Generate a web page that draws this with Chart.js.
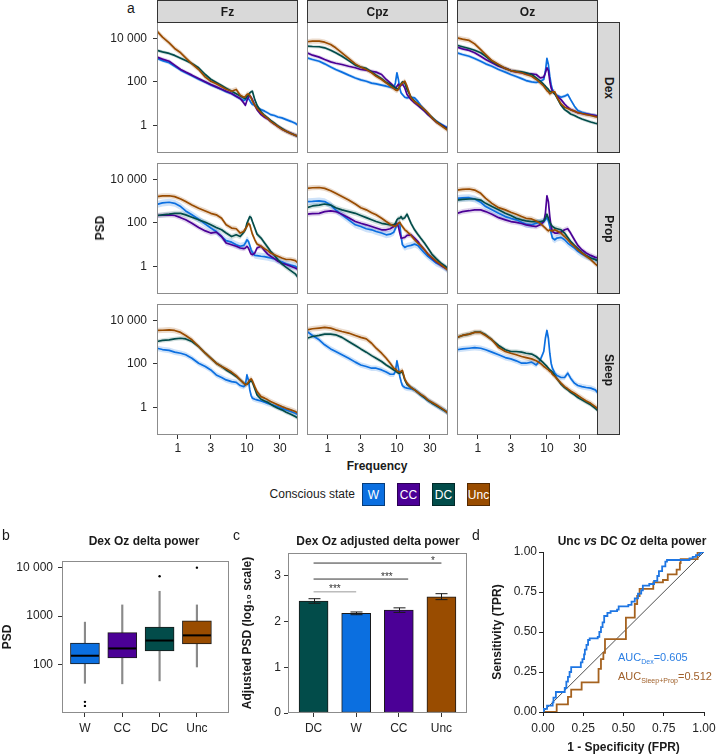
<!DOCTYPE html>
<html><head><meta charset="utf-8"><title>PSD figure</title>
<script src="https://cdn.jsdelivr.net/npm/chart.js@4/dist/chart.umd.min.js"></script>
<style>
html,body{margin:0;padding:0;background:#fff}
#fig{position:relative;width:716px;height:756px;overflow:hidden;font-family:'Liberation Sans',Arial,Helvetica,sans-serif;color:#1a1a1a}
#fig canvas{position:absolute}
.t{position:absolute;white-space:nowrap}
.strip{position:absolute;box-sizing:border-box;background:#d9d9d9;border:1px solid #333;font-weight:bold;font-size:12px;display:flex;align-items:center;justify-content:center;color:#1a1a1a}
.strip.v span{display:inline-block;transform:rotate(90deg)}
.key{position:absolute;top:483px;width:23px;height:23px;box-sizing:border-box;border:1px solid rgba(0,0,0,0.45);color:#fff;font-size:12px;display:flex;align-items:center;justify-content:center}
.ttl{position:absolute;font-weight:bold;font-size:12px;transform:translate(-50%,-50%);white-space:nowrap}
.letter{position:absolute;font-size:14px}
.auc{position:absolute;white-space:nowrap;font-size:11px}
.auc sub{font-size:7px}
</style></head><body><div id="fig">
<div class="letter" style="left:127px;top:0px">a</div>
<div class="strip" style="left:157px;top:0;width:141px;height:23px">Fz</div>
<div class="strip" style="left:307px;top:0;width:141px;height:23px">Cpz</div>
<div class="strip" style="left:457px;top:0;width:141px;height:23px">Oz</div>
<div class="strip v" style="left:597px;top:22px;width:23px;height:131px"><span>Dex</span></div>
<div class="strip v" style="left:597px;top:163px;width:23px;height:131px"><span>Prop</span></div>
<div class="strip v" style="left:597px;top:304px;width:23px;height:131px"><span>Sleep</span></div>
<div class="t" style="left:100px;top:228px;transform:translate(-50%,-50%) rotate(-90deg);font-weight:bold;font-size:12px">PSD</div>
<div class="t" style="left:377px;top:466px;transform:translate(-50%,-50%);font-weight:bold;font-size:12px">Frequency</div>
<div class="t" style="left:355px;top:494px;transform:translate(-100%,-50%);font-size:12px">Conscious state</div>
<div class="key" style="left:362px;background:#0b6fe0">W</div>
<div class="key" style="left:397px;background:#4b0096">CC</div>
<div class="key" style="left:432px;background:#024c4a">DC</div>
<div class="key" style="left:467px;background:#994c00">Unc</div>
<div class="letter" style="left:2px;top:527px">b</div>
<div class="letter" style="left:233px;top:527px">c</div>
<div class="letter" style="left:472px;top:527px">d</div>
<div class="ttl" style="left:144px;top:541px">Dex Oz delta power</div>
<div class="ttl" style="left:378px;top:541px">Dex Oz adjusted delta power</div>
<div class="ttl" style="left:632px;top:541px">Unc <i>vs</i> DC Oz delta power</div>
<div class="auc" style="left:618px;top:651px;color:#2a7ee3">AUC<sub>Dex</sub>=0.605</div>
<div class="auc" style="left:618px;top:670px;color:#a0602a">AUC<sub>Sleep+Prop</sub>=0.512</div>
</div>
<script>
// ---------- data ----------
const freqs = [0.5,0.6,0.75,0.9,1.1,1.3,1.6,2,2.5,3,3.6,4.3,5,6,7,8,9,9.5,10,10.5,11,11.5,12,13,14,16,18,20,22,25,28,32,37,43,50,55];
const freqTickVals = [1,3,10,30];
const freqTickLabels = ['1','3','10','30'];
const psdTickVals = [1,100,10000];
const psdTickLabels = ['1','100','10 000'];
// PSD values as log10(PSD)
const fzDexW   = [3.08,2.98,2.88,2.72,2.54,2.42,2.28,2.12,1.98,1.86,1.75,1.65,1.55,1.45,1.32,1.22,1.14,1.18,1.26,1.23,1.14,1.03,0.96,0.92,0.82,0.72,0.65,0.57,0.49,0.45,0.38,0.34,0.26,0.18,0.09,0.00];
const fzDexCC  = [3.14,3.05,2.95,2.77,2.57,2.45,2.31,2.15,2.00,1.88,1.77,1.66,1.57,1.46,1.34,1.23,1.03,0.92,1.14,1.29,1.35,1.29,1.18,0.92,0.72,0.49,0.37,0.29,0.18,0.06,-0.05,-0.17,-0.28,-0.37,-0.46,-0.51];
const fzDexDC  = [3.45,3.38,3.31,3.22,3.09,2.98,2.85,2.65,2.34,2.12,1.97,1.83,1.71,1.57,1.45,1.35,1.26,1.22,1.32,1.38,1.49,1.54,1.57,1.18,0.92,0.62,0.45,0.34,0.22,0.09,-0.03,-0.15,-0.28,-0.37,-0.46,-0.52];
const fzDexUnc = [4.34,4.06,3.80,3.54,3.34,3.11,2.83,2.57,2.22,2.03,1.91,1.77,1.66,1.57,1.65,1.38,1.29,1.32,1.42,1.45,1.38,1.26,1.11,0.92,0.77,0.57,0.42,0.31,0.18,0.06,-0.06,-0.18,-0.28,-0.38,-0.46,-0.51];
const cpzDexW   = [3.11,3.03,2.95,2.83,2.69,2.57,2.45,2.31,2.18,2.09,2.03,1.94,1.91,1.85,1.80,1.75,1.72,1.95,2.42,2.11,1.69,1.49,1.42,1.29,1.26,1.29,1.26,1.11,0.92,0.72,0.52,0.34,0.18,0.06,-0.06,-0.12];
const cpzDexCC  = [3.34,3.23,3.14,3.03,2.92,2.86,2.80,2.72,2.65,2.57,2.54,2.49,2.45,2.34,2.11,1.95,1.80,1.69,1.80,1.89,1.80,1.85,1.91,1.72,1.42,1.18,1.03,0.92,0.80,0.65,0.49,0.34,0.15,0.03,-0.09,-0.15];
const cpzDexDC  = [3.65,3.63,3.62,3.57,3.46,3.34,3.18,2.98,2.77,2.68,2.62,2.46,2.31,2.15,1.98,1.88,1.77,1.74,1.68,1.68,1.80,1.91,2.00,1.95,1.65,1.29,1.11,0.98,0.86,0.71,0.55,0.37,0.18,0.03,-0.12,-0.20];
const cpzDexUnc = [3.85,3.88,3.88,3.83,3.72,3.57,3.34,3.08,2.83,2.68,2.57,2.42,2.26,2.11,1.95,1.80,1.69,1.63,1.60,1.65,1.80,1.88,1.94,2.03,1.80,1.26,1.08,0.98,0.88,0.72,0.57,0.34,0.15,0.00,-0.15,-0.25];
const ozDexW   = [3.34,3.26,3.18,3.08,2.95,2.83,2.72,2.57,2.45,2.34,2.25,2.15,2.06,2.00,1.97,2.03,2.11,2.49,3.08,2.80,2.26,1.88,1.65,1.45,1.38,1.29,1.34,1.42,1.18,0.88,0.68,0.60,0.54,0.49,0.45,0.40];
const ozDexCC  = [3.60,3.52,3.45,3.34,3.18,3.03,2.88,2.72,2.62,2.52,2.46,2.42,2.37,2.37,2.34,2.18,2.22,2.42,2.65,2.52,2.03,1.72,1.57,1.45,1.34,1.18,0.98,0.83,0.72,0.65,0.58,0.54,0.51,0.48,0.45,0.42];
const ozDexDC  = [3.69,3.62,3.54,3.46,3.34,3.18,2.95,2.77,2.62,2.52,2.49,2.46,2.42,2.34,2.18,2.03,1.88,1.80,1.72,1.65,1.57,1.54,1.54,1.45,1.26,0.92,0.72,0.62,0.52,0.45,0.37,0.29,0.22,0.15,0.09,0.06];
const ozDexUnc = [4.03,3.97,3.91,3.75,3.49,3.26,2.98,2.80,2.62,2.52,2.46,2.42,2.34,2.26,2.11,1.95,1.80,1.69,1.60,1.54,1.45,1.49,1.54,1.54,1.29,0.98,0.83,0.77,0.71,0.65,0.58,0.54,0.49,0.45,0.40,0.37];
const fzPropW   = [2.85,2.92,2.95,2.90,2.75,2.55,2.37,2.17,1.94,1.76,1.60,1.37,1.18,1.11,0.99,0.92,0.96,1.07,1.22,1.15,0.96,0.76,0.64,0.50,0.49,0.46,0.44,0.41,0.38,0.34,0.26,0.20,0.11,0.05,0.00,-0.08];
const fzPropCC  = [2.34,2.35,2.37,2.34,2.24,2.14,1.98,1.79,1.63,1.53,1.57,1.37,1.07,0.99,0.92,0.84,0.81,0.84,0.92,0.84,0.69,0.56,0.53,0.61,0.84,0.92,0.72,0.56,0.46,0.35,0.23,0.14,0.08,0.00,-0.08,-0.15];
const fzPropDC  = [2.34,2.37,2.40,2.44,2.44,2.37,2.26,2.14,2.03,1.91,1.79,1.68,1.53,1.37,1.45,1.37,1.57,1.68,1.98,2.14,2.29,2.24,2.06,1.76,1.48,1.30,1.07,0.87,0.69,0.50,0.31,0.11,-0.05,-0.20,-0.35,-0.53];
const fzPropUnc = [3.21,3.24,3.25,3.21,3.10,2.98,2.82,2.67,2.55,2.44,2.37,2.21,1.91,1.76,1.73,1.53,1.60,1.73,1.83,1.98,1.91,1.68,1.48,1.22,1.02,0.92,0.81,0.72,0.61,0.53,0.46,0.38,0.31,0.31,0.26,0.15];
const cpzPropW   = [2.98,2.99,3.01,2.98,2.82,2.60,2.37,2.14,1.91,1.83,1.73,1.68,1.60,1.53,1.45,1.48,1.57,1.73,1.91,1.98,1.94,1.37,0.99,0.87,0.92,0.96,1.02,0.96,0.81,0.61,0.46,0.31,0.15,0.05,-0.08,-0.20];
const cpzPropCC  = [2.40,2.43,2.44,2.52,2.55,2.52,2.40,2.24,2.06,1.98,1.91,1.83,1.76,1.68,1.68,1.73,1.83,1.91,1.98,1.83,1.53,1.30,1.30,1.33,1.42,1.45,1.30,1.15,0.96,0.76,0.56,0.38,0.20,0.05,-0.08,-0.15];
const cpzPropDC  = [2.70,2.78,2.82,2.87,2.82,2.70,2.60,2.52,2.44,2.34,2.24,2.14,2.06,1.98,1.94,1.91,1.91,1.98,2.14,2.21,2.21,2.29,2.18,2.24,2.40,1.98,1.68,1.48,1.30,1.07,0.84,0.56,0.35,0.15,0.00,-0.11];
const cpzPropUnc = [3.59,3.62,3.63,3.59,3.48,3.36,3.21,3.05,2.87,2.70,2.60,2.47,2.37,2.21,2.06,1.94,1.86,1.83,1.91,1.98,2.03,1.91,1.83,1.68,1.60,1.42,1.22,1.07,0.96,0.76,0.56,0.41,0.23,0.08,-0.08,-0.20];
const ozPropW   = [3.13,3.15,3.16,3.10,2.95,2.75,2.60,2.44,2.29,2.21,2.14,2.03,1.94,1.91,1.98,2.03,2.06,2.14,2.24,2.09,1.83,1.53,1.30,1.22,1.30,1.33,1.22,1.07,0.96,0.84,0.69,0.56,0.46,0.38,0.31,0.26];
const ozPropCC  = [2.44,2.52,2.56,2.60,2.60,2.52,2.40,2.24,2.14,2.06,2.02,1.97,1.91,1.86,1.83,1.91,2.06,2.44,3.25,2.98,2.29,1.83,1.60,1.53,1.53,1.57,1.68,1.73,1.53,1.22,0.96,0.76,0.61,0.50,0.41,0.38];
const ozPropDC  = [3.05,3.08,3.10,3.10,3.05,2.90,2.75,2.60,2.44,2.34,2.21,2.14,2.09,2.06,2.06,2.06,2.09,2.21,2.40,2.21,2.03,1.91,1.83,1.76,1.73,1.68,1.53,1.33,1.15,0.96,0.81,0.64,0.49,0.38,0.31,0.23];
const ozPropUnc = [3.51,3.54,3.56,3.51,3.36,3.13,2.90,2.70,2.60,2.49,2.40,2.29,2.21,2.18,2.09,1.98,1.83,1.76,1.68,1.63,1.68,1.63,1.63,1.68,1.63,1.53,1.37,1.22,1.07,0.92,0.76,0.61,0.46,0.31,0.11,0.00];
const fzSleepW   = [2.72,2.66,2.62,2.54,2.49,2.42,2.26,2.03,1.88,1.72,1.49,1.37,1.26,1.18,1.15,1.00,0.95,1.03,1.49,1.26,0.80,0.54,0.42,0.37,0.34,0.29,0.23,0.18,0.14,0.08,0.02,-0.05,-0.12,-0.20,-0.28,-0.35];
const fzSleepDC  = [3.03,3.08,3.11,3.15,3.18,3.15,3.03,2.80,2.49,2.26,2.03,1.88,1.72,1.57,1.42,1.26,1.11,1.06,1.06,1.11,1.18,1.22,1.15,0.85,0.57,0.37,0.29,0.23,0.14,0.03,-0.05,-0.12,-0.23,-0.32,-0.43,-0.51];
const fzSleepUnc = [3.54,3.55,3.57,3.54,3.45,3.31,3.11,2.80,2.49,2.26,2.03,1.88,1.77,1.62,1.46,1.26,1.11,1.03,1.06,1.15,1.26,1.31,1.22,0.95,0.72,0.49,0.42,0.34,0.26,0.18,0.11,0.03,-0.05,-0.12,-0.20,-0.28];
const cpzSleepW   = [3.49,3.31,3.11,2.88,2.69,2.57,2.42,2.26,2.08,1.95,1.88,1.80,1.80,1.72,1.62,1.52,1.52,1.65,2.14,1.80,1.42,1.18,1.00,0.91,0.88,0.85,0.80,0.69,0.57,0.45,0.32,0.20,0.08,-0.05,-0.17,-0.28];
const cpzSleepDC  = [3.18,3.26,3.31,3.37,3.37,3.34,3.22,3.03,2.85,2.69,2.54,2.38,2.26,2.11,1.95,1.83,1.72,1.68,1.62,1.57,1.57,1.62,1.62,1.26,1.06,0.91,0.80,0.69,0.57,0.45,0.32,0.20,0.08,-0.05,-0.17,-0.28];
const cpzSleepUnc = [3.57,3.62,3.65,3.68,3.65,3.57,3.49,3.42,3.31,3.22,3.15,2.95,2.72,2.49,2.26,2.03,1.80,1.77,1.68,1.65,1.62,1.66,1.70,1.30,1.11,0.91,0.80,0.69,0.60,0.49,0.34,0.23,0.11,-0.02,-0.17,-0.28];
const ozSleepW   = [2.65,2.69,2.72,2.75,2.72,2.65,2.54,2.42,2.29,2.23,2.14,2.03,2.03,2.08,1.95,2.18,2.57,3.18,3.54,3.18,2.49,2.03,1.80,1.57,1.46,1.37,1.37,1.57,1.34,1.11,1.00,0.95,0.91,0.88,0.80,0.65];
const ozSleepDC  = [3.22,3.31,3.37,3.46,3.46,3.34,3.11,2.85,2.65,2.57,2.57,2.54,2.49,2.45,2.34,2.18,2.03,1.95,1.88,1.80,1.72,1.68,1.62,1.46,1.31,1.06,0.91,0.80,0.69,0.57,0.45,0.34,0.23,0.11,-0.05,-0.17];
const ozSleepUnc = [3.22,3.31,3.37,3.45,3.45,3.31,3.11,2.75,2.57,2.49,2.42,2.34,2.29,2.23,2.14,2.03,1.88,1.83,1.77,1.72,1.65,1.62,1.52,1.42,1.31,1.11,0.95,0.85,0.75,0.65,0.54,0.42,0.29,0.18,0.03,-0.08];
// confidence band half-width (log10 units) per condition and state
const bandHalfDex   = {W:0.08, CC:0.09, DC:0.08, Unc:0.12};
const bandHalfProp  = {W:0.16, CC:0.12, DC:0.12, Unc:0.12};
const bandHalfSleep = {W:0.13, DC:0.10, Unc:0.13};

// panel b: box plot
const boxCats = ['W','CC','DC','Unc'];
const boxLow  = [41, 40, 46, 89];
const boxQ1   = [103, 137, 191, 266];
const boxMed  = [152, 215, 313, 400];
const boxQ3   = [278, 457, 590, 800];
const boxHigh = [750, 1700, 3250, 1700];
const outlierPos = [1, 1, 3, 4];
const outlierVal = [17, 14, 6640, 10000];
const boxTickVals = [100, 1000, 10000];
const boxTickLabels = ['100', '1000', '10 000'];

// panel c: bars
const barCats = ['DC','W','CC','Unc'];
const barMeans = [2.45, 2.18, 2.25, 2.54];
const barErrLow = [2.40, 2.15, 2.20, 2.48];
const barErrHigh = [2.50, 2.21, 2.30, 2.61];
const sigFrom = [1, 1, 1];
const sigTo = [4, 3.22, 2];
const sigY = [3.28, 2.93, 2.65];
const sigText = ['*', '***', '***'];
const sigTextX = [3.8, 2.72, 1.5];
const sigColor = ['#333333', '#333333', '#999999'];

// panel d: ROC
const rocDexFpr = [0,0.005,0.025,0.06,0.065,0.08,0.13,0.135,0.145,0.155,0.165,0.175,0.23,0.235,0.245,0.255,0.26,0.27,0.28,0.29,0.34,0.35,0.36,0.37,0.38,0.40,0.42,0.46,0.47,0.53,0.55,0.57,0.59,0.61,0.62,0.66,0.69,0.71,0.72,0.74,0.76,0.77,0.87,0.91,0.93,0.95,0.97,0.98,1.0];
const rocDexTpr = [0,0.02,0.04,0.06,0.09,0.125,0.125,0.15,0.19,0.22,0.25,0.28,0.28,0.31,0.33,0.36,0.39,0.42,0.45,0.46,0.47,0.50,0.53,0.56,0.60,0.62,0.63,0.64,0.66,0.67,0.69,0.71,0.74,0.76,0.79,0.80,0.82,0.85,0.88,0.91,0.94,0.95,0.95,0.96,0.97,0.98,0.99,1.0,1.0];
const rocSPFpr = [0,0.085,0.155,0.175,0.24,0.345,0.36,0.375,0.385,0.515,0.57,0.585,0.60,0.685,0.745,0.775,0.83,0.85,0.855,0.96,1.0];
const rocSPTpr = [0,0.048,0.094,0.14,0.185,0.27,0.33,0.37,0.455,0.59,0.675,0.725,0.77,0.81,0.825,0.86,0.89,0.93,0.955,1.0,1.0];
const rocTickVals = [0, 0.25, 0.5, 0.75, 1];
const rocTickLabels = ['0.00','0.25','0.50','0.75','1.00'];

// ---------- styling ----------
const stateColors = {W:'#0b6fe0', CC:'#4b0096', DC:'#024c4a', Unc:'#994c00'};
const bandColors = {W:'rgba(11,111,224,0.2)', CC:'rgba(75,0,150,0.17)', DC:'rgba(2,76,74,0.17)', Unc:'rgba(153,76,0,0.2)'};
const conds = ['Dex','Prop','Sleep'];
const chans = ['Fz','Cpz','Oz'];
const seriesByCond = {Dex:['W','CC','DC','Unc'], Prop:['W','CC','DC','Unc'], Sleep:['W','DC','Unc']};
const bandByCond = {Dex:bandHalfDex, Prop:bandHalfProp, Sleep:bandHalfSleep};
const psdTable = {
  Dex:  {Fz:{W:fzDexW,CC:fzDexCC,DC:fzDexDC,Unc:fzDexUnc}, Cpz:{W:cpzDexW,CC:cpzDexCC,DC:cpzDexDC,Unc:cpzDexUnc}, Oz:{W:ozDexW,CC:ozDexCC,DC:ozDexDC,Unc:ozDexUnc}},
  Prop: {Fz:{W:fzPropW,CC:fzPropCC,DC:fzPropDC,Unc:fzPropUnc}, Cpz:{W:cpzPropW,CC:cpzPropCC,DC:cpzPropDC,Unc:cpzPropUnc}, Oz:{W:ozPropW,CC:ozPropCC,DC:ozPropDC,Unc:ozPropUnc}},
  Sleep:{Fz:{W:fzSleepW,DC:fzSleepDC,Unc:fzSleepUnc}, Cpz:{W:cpzSleepW,DC:cpzSleepDC,Unc:cpzSleepUnc}, Oz:{W:ozSleepW,DC:ozSleepDC,Unc:ozSleepUnc}}
};

Chart.defaults.font.family = "'Liberation Sans', Arial, Helvetica, sans-serif";
Chart.defaults.font.size = 12;
Chart.defaults.color = '#222';
Chart.defaults.animation = false;
Chart.defaults.plugins.legend.display = false;
Chart.defaults.plugins.tooltip.enabled = false;

const framePlugin = {
  id: 'frame',
  afterDatasetsDraw(chart, args, opts) {
    if (!opts || !opts.show) return;
    const {left, top, right, bottom} = chart.chartArea;
    const ctx = chart.ctx;
    ctx.save();
    ctx.strokeStyle = opts.color || '#8c8c8c';
    ctx.lineWidth = 1;
    ctx.strokeRect(Math.round(left) + 0.5, Math.round(top) + 0.5, Math.round(right - left) - 1, Math.round(bottom - top) - 1);
    ctx.restore();
  }
};
Chart.register(framePlugin);

function mkCanvas(left, top, w, h) {
  const c = document.createElement('canvas');
  c.width = w; c.height = h;
  c.style.left = left + 'px'; c.style.top = top + 'px';
  c.style.width = w + 'px'; c.style.height = h + 'px';
  document.getElementById('fig').insertBefore(c, document.getElementById('fig').firstChild);
  return c.getContext('2d');
}
const tickGrid = {display:true, drawOnChartArea:false, drawTicks:true, tickLength:4, color:'#333'};
const zeroPad = s => { s.paddingTop = 0; s.paddingBottom = 0; s.paddingLeft = 0; s.paddingRight = 0; };

// ---------- facet panels ----------
const colLeft = [157, 307, 457], rowTop = [22, 163, 304], PW = 141, PH = 131, YAX = 62, XAX = 24;
conds.forEach((cond, r) => chans.forEach((ch, c) => {
  const showY = c === 0, showX = r === 2;
  const w = PW + (showY ? YAX : 0), h = PH + (showX ? XAX : 0);
  const ctx = mkCanvas(colLeft[c] - (showY ? YAX : 0), rowTop[r], w, h);
  const datasets = [];
  const series = seriesByCond[cond];
  const band = bandByCond[cond];
  series.forEach(s => {
    const vals = psdTable[cond][ch][s];
    datasets.push({data: freqs.map((f,i)=>({x:f, y:Math.pow(10, vals[i] + band[s])})), borderWidth:0, borderColor:'transparent', pointRadius:0, fill:false, order:10});
    datasets.push({data: freqs.map((f,i)=>({x:f, y:Math.pow(10, vals[i] - band[s])})), borderWidth:0, borderColor:'transparent', pointRadius:0, fill:'-1', backgroundColor:bandColors[s], order:10});
  });
  series.forEach((s, k) => {
    const vals = psdTable[cond][ch][s];
    datasets.push({data: freqs.map((f,i)=>({x:f, y:Math.pow(10, vals[i])})), borderColor:stateColors[s], borderWidth:1.7, pointRadius:0, tension:0, fill:false, order:6-k, borderJoinStyle:'round'});
  });
  new Chart(ctx, {
    type:'line',
    data:{datasets},
    options:{
      responsive:false, devicePixelRatio:1,
      layout:{padding:0},
      plugins:{frame:{show:true, color:'#8c8c8c'}},
      scales:{
        x:{type:'logarithmic', min:0.5, max:54.8, display:showX,
           afterBuildTicks:s=>{ s.ticks = freqTickVals.map(v=>({value:v})); },
           afterFit:s=>{ if (showX) s.height = XAX; zeroPad(s); },
           ticks:{autoSkip:false, maxRotation:0, padding:2, color:'#222', font:{size:12}, callback:(v,i)=>freqTickLabels[i]},
           grid:tickGrid, border:{display:false}},
        y:{type:'logarithmic', min:Math.pow(10,-1.28), max:Math.pow(10,4.76), display:showY,
           afterBuildTicks:s=>{ s.ticks = psdTickVals.map(v=>({value:v})); },
           afterFit:s=>{ if (showY) s.width = YAX; zeroPad(s); },
           ticks:{autoSkip:false, padding:6, color:'#222', font:{size:12}, callback:(v,i)=>psdTickLabels[i]},
           grid:tickGrid, border:{display:false}}
      }
    }
  });
}));

// ---------- panel b: boxplot ----------
(function(){
  const ctx = mkCanvas(0, 545, 245, 211);
  const xs = boxCats.map((_, i) => i + 1);
  new Chart(ctx, {
    type:'bar',
    data:{datasets:[
      {type:'bar', data: xs.map((x,i)=>({x, y:[boxLow[i], boxHigh[i]]})), backgroundColor:'#8a8a8a', borderWidth:0, barThickness:1.5, grouped:false, order:3},
      {type:'bar', data: xs.map((x,i)=>({x, y:[boxQ1[i], boxQ3[i]]})), backgroundColor: boxCats.map(c=>stateColors[c]), borderColor:'#1a1a1a', borderWidth:1, borderSkipped:false, barThickness:29, grouped:false, order:2},
      {type:'line', data: xs.map((x,i)=>({x, y:boxMed[i]})), showLine:false, pointStyle:'line', pointRadius:14, pointBorderWidth:2, pointBorderColor:'#000', order:1},
      {type:'line', data: outlierPos.map((x,i)=>({x, y:outlierVal[i]})), showLine:false, pointRadius:1.2, pointBackgroundColor:'#000', pointBorderWidth:0, order:0}
    ]},
    options:{
      responsive:false, devicePixelRatio:1,
      layout:{padding:{top:8, right:8, left:0, bottom:0}},
      plugins:{frame:{show:true, color:'#8c8c8c'}},
      scales:{
        x:{type:'linear', min:0.385, max:4.86, offset:false,
           afterBuildTicks:s=>{ s.ticks = xs.map(v=>({value:v})); },
           afterFit:s=>{ s.height = 43; zeroPad(s); },
           ticks:{autoSkip:false, maxRotation:0, padding:4, color:'#222', font:{size:12}, callback:(v,i)=>boxCats[i]},
           grid:{...tickGrid, offset:false}, border:{display:false}},
        y:{type:'logarithmic', min:10, max:13700,
           afterBuildTicks:s=>{ s.ticks = boxTickVals.map(v=>({value:v})); },
           afterFit:s=>{ s.width = 62; zeroPad(s); },
           ticks:{autoSkip:false, padding:5, color:'#222', font:{size:12}, callback:(v,i)=>boxTickLabels[i]},
           title:{display:true, text:'PSD', font:{size:12, weight:'bold'}, color:'#1a1a1a', padding:{top:0, bottom:0}},
           grid:tickGrid, border:{display:false}}
      }
    }
  });
})();

// ---------- panel c: bars ----------
(function(){
  const ctx = mkCanvas(232, 545, 240, 211);
  const xs = barCats.map((_, i) => i + 1);
  const errPlugin = {
    id:'errbars',
    afterDatasetsDraw(chart){
      const X = chart.scales.x, Y = chart.scales.y, g = chart.ctx;
      g.save();
      g.strokeStyle = '#1a1a1a'; g.lineWidth = 1;
      xs.forEach((x, i) => {
        const px = Math.round(X.getPixelForValue(x)) + 0.5;
        const lo = Y.getPixelForValue(barErrLow[i]), hi = Y.getPixelForValue(barErrHigh[i]);
        g.beginPath();
        g.moveTo(px, lo); g.lineTo(px, hi);
        g.moveTo(px - 6, lo); g.lineTo(px + 6, lo);
        g.moveTo(px - 6, hi); g.lineTo(px + 6, hi);
        g.stroke();
      });
      g.fillStyle = '#333'; g.font = "10px 'Liberation Sans', Arial, sans-serif";
      g.textAlign = 'center'; g.textBaseline = 'alphabetic';
      sigText.forEach((t, i) => {
        g.fillText(t, X.getPixelForValue(sigTextX[i]), Y.getPixelForValue(sigY[i]) + 0.5);
      });
      g.restore();
    }
  };
  const datasets = [
    {type:'bar', data: xs.map((x,i)=>({x, y:barMeans[i]})), backgroundColor: barCats.map(c=>stateColors[c]), borderColor:'#1a1a1a', borderWidth:1, borderSkipped:false, barThickness:29, order:2}
  ];
  sigFrom.forEach((f, i) => datasets.push({type:'line', data:[{x:f, y:sigY[i]}, {x:sigTo[i], y:sigY[i]}], borderColor:sigColor[i], borderWidth:1, pointRadius:0, order:1}));
  new Chart(ctx, {
    type:'bar',
    data:{datasets},
    plugins:[errPlugin],
    options:{
      responsive:false, devicePixelRatio:1,
      layout:{padding:{top:8, right:5, left:0, bottom:0}},
      plugins:{frame:{show:true, color:'#8c8c8c'}},
      scales:{
        x:{type:'linear', min:0.4, max:4.6, offset:false,
           afterBuildTicks:s=>{ s.ticks = xs.map(v=>({value:v})); },
           afterFit:s=>{ s.height = 43; zeroPad(s); },
           ticks:{autoSkip:false, maxRotation:0, padding:4, color:'#222', font:{size:12}, callback:(v,i)=>barCats[i]},
           grid:{...tickGrid, offset:false}, border:{display:false}},
        y:{type:'linear', min:0, max:3.5,
           afterBuildTicks:s=>{ s.ticks = [0,1,2,3].map(v=>({value:v})); },
           afterFit:s=>{ s.width = 56; zeroPad(s); },
           ticks:{autoSkip:false, padding:3, color:'#222', font:{size:12}, callback:v=>String(v)},
           title:{display:true, text:'Adjusted PSD (log\u2081\u2080 scale)', font:{size:12, weight:'bold'}, color:'#1a1a1a', padding:{top:8, bottom:0}},
           grid:tickGrid, border:{display:false}}
      }
    }
  });
})();

// ---------- panel d: ROC ----------
(function(){
  const ctx = mkCanvas(470, 540, 246, 216);
  new Chart(ctx, {
    type:'line',
    data:{datasets:[
      {data:[{x:0,y:0},{x:1,y:1}], borderColor:'#222', borderWidth:0.8, pointRadius:0, order:3},
      {data: rocSPFpr.map((f,i)=>({x:f, y:rocSPTpr[i]})), stepped:'before', borderColor:'#a5621f', borderWidth:1.8, pointRadius:0, order:2},
      {data: rocDexFpr.map((f,i)=>({x:f, y:rocDexTpr[i]})), stepped:'before', borderColor:'#1e76e3', borderWidth:1.8, pointRadius:0, order:1}
    ]},
    options:{
      responsive:false, devicePixelRatio:1,
      layout:{padding:{top:12, right:12, left:0, bottom:0}},
      scales:{
        x:{type:'linear', min:0, max:1,
           afterBuildTicks:s=>{ s.ticks = rocTickVals.map(v=>({value:v})); },
           afterFit:s=>{ s.height = 44; zeroPad(s); },
           ticks:{autoSkip:false, maxRotation:0, padding:5, color:'#222', font:{size:12}, callback:(v,i)=>rocTickLabels[i]},
           title:{display:true, text:'1 - Specificity (FPR)', font:{size:12, weight:'bold'}, color:'#1a1a1a', padding:{top:0, bottom:1}},
           grid:{...tickGrid, color:'#222'}, border:{display:true, color:'#222', width:1}},
        y:{type:'linear', min:0, max:1,
           afterBuildTicks:s=>{ s.ticks = rocTickVals.map(v=>({value:v})); },
           afterFit:s=>{ s.width = 73; zeroPad(s); },
           ticks:{autoSkip:false, padding:2, color:'#222', font:{size:12}, callback:(v,i)=>rocTickLabels[i]},
           title:{display:true, text:'Sensitivity (TPR)', font:{size:12, weight:'bold'}, color:'#1a1a1a', padding:{top:20, bottom:0}},
           grid:{...tickGrid, color:'#222'}, border:{display:true, color:'#222', width:1}}
      }
    }
  });
})();
</script></body></html>
